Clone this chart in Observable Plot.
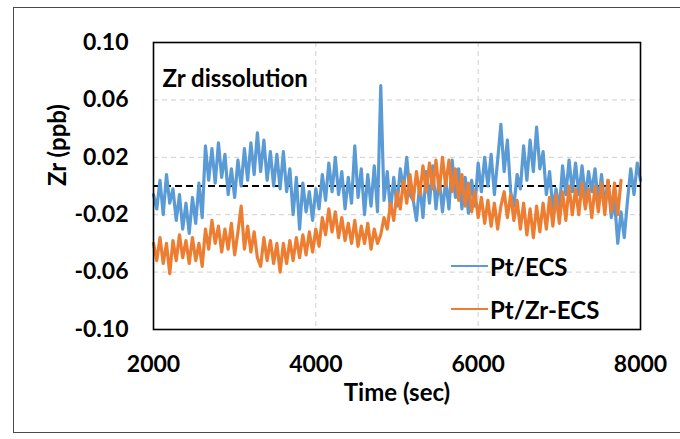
<!DOCTYPE html>
<html>
<head>
<meta charset="utf-8">
<script src="https://cdn.jsdelivr.net/npm/d3@7"></script>
<script src="https://cdn.jsdelivr.net/npm/@observablehq/plot@0.6"></script>
<style>
  html, body { margin: 0; padding: 0; background: #fff; overflow: hidden; }
  #wrap { position: relative; width: 680px; height: 439px; font-family: Lato, "Open Sans", sans-serif; }
  #border { position: absolute; left: 13px; top: 7px; width: 720px; height: 426px; border: 1.5px solid #4a4a4a; box-sizing: border-box; pointer-events: none; }
  .leg { position: absolute; left: 451px; height: 26px; display: flex; align-items: center; font-weight: bold; font-size: 24px; color: #000; }
  .leg .sw { width: 37px; height: 2px; margin-right: 2px; }
</style>
</head>
<body>
<div id="wrap">
  <div id="chart"></div>
  <div id="border"></div>
  <div id="legend"></div>
</div>
<script>
// Sampling times (sec)
const timeSec = [
  2000,2040,2080,2120,2160,2200,2240,2280,2320,2360,
  2400,2440,2480,2520,2560,2600,2640,2680,2720,2760,
  2800,2840,2880,2920,2960,3000,3040,3080,3120,3160,
  3200,3240,3280,3320,3360,3400,3440,3480,3520,3560,
  3600,3640,3680,3720,3760,3800,3840,3880,3920,3960,
  4000,4040,4080,4120,4160,4200,4240,4280,4320,4360,
  4400,4440,4480,4520,4560,4600,4640,4680,4720,4760,
  4800,4840,4880,4920,4960,5000,5040,5080,5120,5160,
  5200,5240,5280,5320,5360,5400,5440,5480,5520,5560,
  5600,5640,5680,5720,5760,5800,5840,5880,5920,5960,
  6000,6040,6080,6120,6160,6200,6240,6280,6320,6360,
  6400,6440,6480,6520,6560,6600,6640,6680,6720,6760,
  6800,6840,6880,6920,6960,7000,7040,7080,7120,7160,
  7200,7240,7280,7320,7360,7400,7440,7480,7520,7560,
  7600,7640,7680,7720,7760,7800,7840,7880,7920,7960,
  8000
];

// Pt/ECS, Zr (ppb)
const ptECS = [
  -0.006,-0.016,0.004,-0.020,0.008,-0.012,-0.002,-0.024,-0.006,-0.030,
  -0.012,-0.033,-0.008,-0.026,0.002,-0.022,0.028,0.004,0.026,0.002,
  0.030,0.006,0.022,-0.006,0.012,-0.008,0.018,0.000,0.026,0.004,
  0.030,0.008,0.037,0.010,0.032,0.004,0.024,0.000,0.022,-0.002,
  0.024,-0.004,0.012,-0.020,0.006,-0.030,0.002,-0.018,-0.004,-0.024,
  -0.002,-0.016,0.008,-0.010,0.016,-0.004,0.020,-0.006,0.010,-0.016,
  0.006,-0.012,0.028,-0.008,0.012,-0.020,0.008,-0.014,0.014,-0.018,
  0.070,-0.010,0.010,-0.018,0.006,-0.014,0.012,-0.002,0.020,-0.006,
  -0.010,-0.024,0.002,-0.022,0.010,-0.012,0.014,-0.016,0.006,-0.018,
  0.004,-0.016,0.018,-0.008,0.012,-0.016,0.006,-0.019,0.004,-0.014,
  0.016,-0.004,0.020,0.000,0.022,-0.006,0.018,0.043,0.010,0.032,
  -0.004,-0.014,0.008,-0.002,0.028,0.004,0.032,0.010,0.041,0.012,
  0.024,-0.006,0.010,-0.016,-0.002,-0.017,0.014,-0.006,0.018,-0.004,
  0.016,-0.006,0.014,-0.008,0.010,-0.004,0.012,-0.012,0.008,-0.014,
  0.004,-0.022,-0.010,-0.040,-0.018,-0.036,-0.010,0.012,-0.006,0.016,
  0.004
];

// Pt/Zr-ECS, Zr (ppb) — ends at 7760 s
const ptZrECS = [
  -0.040,-0.052,-0.036,-0.054,-0.040,-0.061,-0.038,-0.052,-0.034,-0.050,
  -0.038,-0.054,-0.036,-0.052,-0.040,-0.056,-0.030,-0.044,-0.024,-0.040,
  -0.028,-0.046,-0.030,-0.044,-0.026,-0.048,-0.032,-0.014,-0.044,-0.028,
  -0.046,-0.032,-0.050,-0.056,-0.036,-0.052,-0.038,-0.054,-0.040,-0.060,
  -0.040,-0.054,-0.038,-0.052,-0.036,-0.050,-0.034,-0.048,-0.032,-0.046,
  -0.030,-0.042,-0.022,-0.034,-0.016,-0.032,-0.018,-0.036,-0.022,-0.038,
  -0.026,-0.040,-0.024,-0.042,-0.028,-0.040,-0.026,-0.044,-0.030,-0.040,
  -0.034,-0.022,-0.030,-0.012,-0.024,-0.004,-0.016,0.004,-0.012,0.008,
  -0.010,0.010,-0.006,0.014,-0.004,0.016,-0.002,0.018,-0.004,0.020,
  0.000,0.018,-0.004,0.012,-0.010,0.008,-0.014,0.002,-0.018,-0.004,
  -0.022,-0.008,-0.026,-0.010,-0.028,-0.012,-0.030,-0.014,-0.004,-0.022,
  -0.006,-0.024,-0.010,-0.030,-0.012,-0.034,-0.016,-0.036,-0.014,-0.032,
  -0.012,-0.030,-0.008,-0.028,-0.006,-0.026,-0.004,-0.024,0.000,-0.020,
  -0.002,-0.020,0.002,-0.016,-0.002,-0.022,0.000,-0.018,0.002,-0.020,
  0.004,-0.018,0.002,-0.020,0.004
];

const seriesNames = ["Pt/ECS", "Pt/Zr-ECS"];
const seriesColors = ["#5B9BD5", "#ED7D31"];
const yTicks = [0.10, 0.06, 0.02, -0.02, -0.06, -0.10];
const xTicks = [2000, 4000, 6000, 8000];
const yGrid = [0.06, 0.02, -0.02, -0.06];
const xGrid = [4000, 6000];
const baseline = [0];
const titleText = "Zr dissolution";
const xLabel = "Time (sec)";
const yLabel = "Zr (ppb)";

const blueData = ptECS.map((v, i) => ({t: timeSec[i], v}));
const orangeData = ptZrECS.map((v, i) => ({t: timeSec[i], v}));

const chart = Plot.plot({
  width: 680,
  height: 439,
  marginLeft: 153,
  marginRight: 40,
  marginTop: 42,
  marginBottom: 110,
  style: {fontFamily: "Lato, 'Open Sans', sans-serif", fontWeight: "bold", fontSize: "23px", color: "#000", background: "transparent", overflow: "visible"},
  x: {domain: [2000, 8000]},
  y: {domain: [-0.10, 0.10]},
  marks: [
    Plot.gridX(xGrid, {stroke: "#cfcfcf", strokeOpacity: 1, strokeDasharray: "5,4"}),
    Plot.gridY(yGrid, {stroke: "#cfcfcf", strokeOpacity: 1, strokeDasharray: "5,4"}),
    Plot.ruleY(baseline, {stroke: "#000", strokeWidth: 2, strokeDasharray: "7,4"}),
    Plot.line(blueData, {x: "t", y: "v", stroke: seriesColors[0], strokeWidth: 3.2, strokeLinejoin: "round"}),
    Plot.line(orangeData, {x: "t", y: "v", stroke: seriesColors[1], strokeWidth: 3.2, strokeLinejoin: "round"}),
    Plot.frame({stroke: "#000", strokeWidth: 1.6}),
    Plot.text([titleText], {frameAnchor: "top-left", dx: 9, dy: 27, textAnchor: "start", fontSize: 24, fontWeight: "bold", fill: "#000"}),
    Plot.text([xLabel], {frameAnchor: "bottom", dy: 71, fontSize: 24, fontWeight: "bold", fill: "#000"}),
    Plot.text([yLabel], {frameAnchor: "left", dx: -95, rotate: -90, fontSize: 24, fontWeight: "bold", fill: "#000"}),
    Plot.axisX(xTicks, {tickSize: 0, tickPadding: 26, label: null, tickFormat: d => String(d), fontSize: 23, fontWeight: "bold"}),
    Plot.axisY(yTicks, {tickSize: 0, tickPadding: 25, label: null, tickFormat: d => d.toFixed(2), fontSize: 23, fontWeight: "bold"})
  ]
});
document.getElementById("chart").appendChild(chart);

const legendTops = [253, 296];
const legend = document.getElementById("legend");
seriesNames.forEach((name, i) => {
  const item = document.createElement("div");
  item.className = "leg";
  item.style.top = legendTops[i] + "px";
  const sw = document.createElement("span");
  sw.className = "sw";
  sw.style.background = seriesColors[i];
  const label = document.createElement("span");
  label.textContent = name;
  item.appendChild(sw);
  item.appendChild(label);
  legend.appendChild(item);
});
</script>
</body>
</html>
